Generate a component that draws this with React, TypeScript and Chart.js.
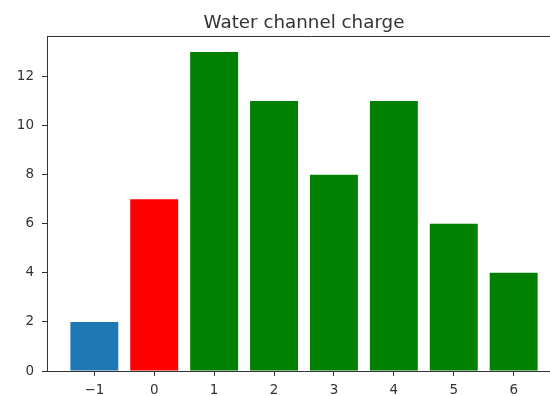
import React, { useEffect, useRef } from 'react';
import { Chart, registerables } from 'chart.js';

Chart.register(...registerables);

const titleText = 'Water channel charge';
const categories = [-1, 0, 1, 2, 3, 4, 5, 6];
const counts = [2, 7, 13, 11, 8, 11, 6, 4];
const barColors = ['#1f77b4', '#ff0000', '#008000', '#008000', '#008000', '#008000', '#008000', '#008000'];
const xMin = -1.79;
const xMax = 6.79;
const yMax = 13.65;

const AXIS = '#333333';
const FONT = 'DejaVu Sans';

export default function App() {
  const ref = useRef<HTMLCanvasElement>(null);

  useEffect(() => {
    if (!ref.current) return;
    const frame = {
      id: 'frame',
      afterDatasetsDraw(chart: any) {
        const { ctx, chartArea: a } = chart;
        ctx.save();
        ctx.strokeStyle = AXIS;
        ctx.lineWidth = 1;
        ctx.beginPath();
        ctx.moveTo(a.left, Math.round(a.top) + 0.5);
        ctx.lineTo(a.right + 20, Math.round(a.top) + 0.5);
        ctx.stroke();
        ctx.fillStyle = AXIS;
        ctx.font = `18.3px "${FONT}"`;
        ctx.textAlign = 'center';
        ctx.textBaseline = 'alphabetic';
        ctx.fillText(titleText, (a.left + a.right) / 2, 28);
        ctx.restore();
      },
    };
    const fmt = (v: number) => (v < 0 ? '\u2212' + Math.abs(v) : String(v));
    const chart = new Chart(ref.current, {
      type: 'bar',
      data: {
        datasets: [
          {
            data: categories.map((c, i) => ({ x: c, y: counts[i] })),
            backgroundColor: barColors,
            borderWidth: 0,
            barPercentage: 0.8,
            categoryPercentage: 1,
          },
        ],
      },
      options: {
        animation: false,
        responsive: false,
        devicePixelRatio: 1,
        layout: { padding: { left: 0, right: 14, top: 36, bottom: 0 } },
        plugins: {
          legend: { display: false },
          tooltip: { enabled: false },
          title: { display: false },
        },
        scales: {
          x: {
            type: 'linear',
            min: xMin,
            max: xMax,
            offset: false,
            afterFit: (s: any) => {
              s.height = 25;
            },
            grid: { drawOnChartArea: false, tickLength: 5, color: AXIS, offset: false },
            border: { color: AXIS, width: 1 },
            ticks: {
              stepSize: 1,
              includeBounds: false,
              autoSkip: false,
              maxRotation: 0,
              padding: 6,
              color: AXIS,
              font: { family: FONT, size: 13.5 },
              callback: (v: any) => (Number.isInteger(v) ? fmt(v) : ''),
            },
          },
          y: {
            type: 'linear',
            min: 0,
            max: yMax,
            afterFit: (s: any) => {
              s.width = 47;
            },
            grid: { drawOnChartArea: false, tickLength: 5, color: AXIS },
            border: { color: AXIS, width: 1 },
            ticks: {
              stepSize: 2,
              includeBounds: false,
              padding: 8,
              color: AXIS,
              font: { family: FONT, size: 13.5 },
              callback: (v: any) => (Number.isInteger(v) ? fmt(v) : ''),
            },
          },
        },
      },
      plugins: [frame],
    } as any);
    return () => chart.destroy();
  }, []);

  return (
    <div style={{ position: 'fixed', left: 0, top: 0, width: 550, height: 396, overflow: 'hidden', background: '#fff' }}>
      <canvas ref={ref} width={575} height={396} style={{ display: 'block' }} />
    </div>
  );
}
